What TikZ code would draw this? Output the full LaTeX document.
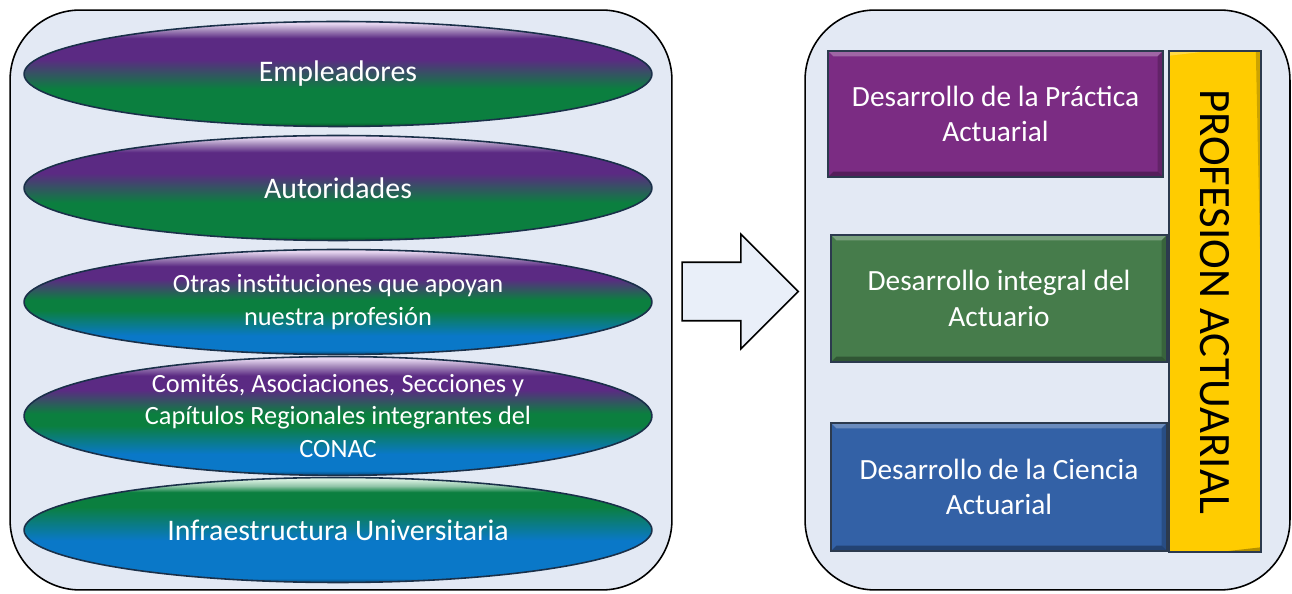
\documentclass[tikz,border=0pt]{standalone}
\usepackage{fontspec}
\setmainfont{Carlito}
\usetikzlibrary{shapes.geometric,shapes.arrows}
\usepackage{xcolor}

\definecolor{panelfill}{HTML}{E3E9F4}
\definecolor{ovalpurple}{HTML}{5B2A83}
\definecolor{ovalgreen}{HTML}{0B7F3F}
\definecolor{ovalblue}{HTML}{0A78C8}
\definecolor{ovallav}{HTML}{E6D6F0}
\definecolor{ovalmint}{HTML}{D8F0E0}
\definecolor{ovaledge}{HTML}{1A3049}
\colorlet{ovalpurplelt}{ovalpurple!55!white}
\colorlet{ovalgreenlt}{ovalgreen!45!white}
\colorlet{ovalgreendk}{ovalgreen!65!black}
\colorlet{ovalbluedk}{ovalblue!60!black}
\definecolor{boxpurple}{HTML}{7B2C83}
\definecolor{boxgreen}{HTML}{467C4B}
\definecolor{boxblue}{HTML}{3361A6}
\definecolor{boxyellow}{HTML}{FFCC00}
\definecolor{boxedge}{HTML}{2C3A4E}
\definecolor{arrowfill}{HTML}{E9EFF9}

\pgfdeclareverticalshading{ovaltwo}{100bp}{color(0bp)=(ovalgreendk); color(25bp)=(ovalgreendk); color(27bp)=(ovalgreen); color(43bp)=(ovalgreen); color(57bp)=(ovalpurple); color(67bp)=(ovalpurple); color(71bp)=(ovalpurplelt); color(74bp)=(ovallav); color(100bp)=(ovallav)}
\pgfdeclareverticalshading{ovalthree}{100bp}{color(0bp)=(ovalbluedk); color(25bp)=(ovalbluedk); color(27bp)=(ovalblue); color(34bp)=(ovalblue); color(46bp)=(ovalgreen); color(51bp)=(ovalgreen); color(61bp)=(ovalpurple); color(67bp)=(ovalpurple); color(71bp)=(ovalpurplelt); color(74bp)=(ovallav); color(100bp)=(ovallav)}
\pgfdeclareverticalshading{ovalone}{100bp}{color(0bp)=(ovalbluedk); color(25bp)=(ovalbluedk); color(27bp)=(ovalblue); color(45bp)=(ovalblue); color(61bp)=(ovalgreen); color(68bp)=(ovalgreen); color(71bp)=(ovalgreenlt); color(74bp)=(ovalmint); color(100bp)=(ovalmint)}

\begin{document}
\begin{tikzpicture}[x=0.02cm, y=-0.02cm,
			panel/.style={rectangle, draw=black, fill=panelfill, line width=0.9pt,
				minimum height=11.6cm, rounded corners=1.4cm},
			oval/.style={ellipse, draw=ovaledge, line width=0.9pt, inner sep=0pt,
				minimum width=12.56cm, minimum height=2.1cm, align=center, text=white,
				font=\fontsize{17}{20}\selectfont},
			small/.style={font=\fontsize{15}{18.7}\selectfont},
			bevel/.style={path picture={
					\fill[white, opacity=.28] (path picture bounding box.north west) -- (path picture bounding box.north east)
					-- ([shift={(-3pt,-3pt)}]path picture bounding box.north east) -- ([shift={(3pt,-3pt)}]path picture bounding box.north west) -- cycle;
					\fill[black, opacity=.3] (path picture bounding box.south west) -- (path picture bounding box.south east)
					-- ([shift={(-3pt,3pt)}]path picture bounding box.south east) -- ([shift={(3pt,3pt)}]path picture bounding box.south west) -- cycle;
					\fill[black, opacity=.2] (path picture bounding box.north east) -- (path picture bounding box.south east)
					-- ([shift={(-3pt,3pt)}]path picture bounding box.south east) -- ([shift={(-3pt,-3pt)}]path picture bounding box.north east) -- cycle;}},
			devbox/.style={rectangle, draw=boxedge, line width=0.9pt, bevel, text=white,
				minimum width=6.72cm, minimum height=2.54cm, align=center,
				font=\fontsize{16.7}{20.4}\selectfont},
			banner/.style={rectangle, draw=boxedge, line width=0.9pt, fill=boxyellow, bevel,
				minimum width=10.02cm, minimum height=1.84cm, rotate=-90,
				font=\fontsize{25.5}{30}\selectfont},
			bigarrow/.style={single arrow, draw=black, line width=0.9pt, fill=arrowfill,
				minimum height=2.32cm, minimum width=2.26cm, inner xsep=0pt, inner ysep=0.57cm,
				single arrow head extend=0.56cm}
			]
			\useasboundingbox (0,0) rectangle (1292,594);
			
			\node[panel, minimum width=13.24cm] (Left) at (341,300) {};
			\node[panel, minimum width=9.7cm] (Right) at (1047.5,300) {};
			
			\node[oval, shading=ovaltwo] (Emp) at (338,74) {Empleadores};
			\node[oval, shading=ovaltwo] (Aut) at (338,188) {Autoridades};
			\node[oval, small, shading=ovalthree] (Otr) at (338,302) {Otras instituciones que apoyan\\nuestra profesión};
			\node[oval, small, shading=ovalthree] (Com) at (338,416) {Comités, Asociaciones, Secciones y\\Capítulos Regionales integrantes del\\CONAC};
			\node[oval, shading=ovalone] (Inf) at (338,530) {Infraestructura Universitaria};
			
			\node[bigarrow] (Arrow) at (725.5,291.5) {};
			
			\node[devbox, fill=boxpurple, minimum width=6.7cm, minimum height=2.52cm] (Prac) at (995.5,114) {Desarrollo de la Práctica\\Actuarial};
			\node[devbox, fill=boxgreen] (Integ) at (999,298.5) {Desarrollo integral del\\Actuario};
			\node[devbox, fill=boxblue, minimum height=2.56cm] (Cien) at (999,487) {Desarrollo de la Ciencia\\Actuarial};
			\node[banner] (Prof) at (1215,301.5) {PROFESION ACTUARIAL};
		\end{tikzpicture}
\end{document}
